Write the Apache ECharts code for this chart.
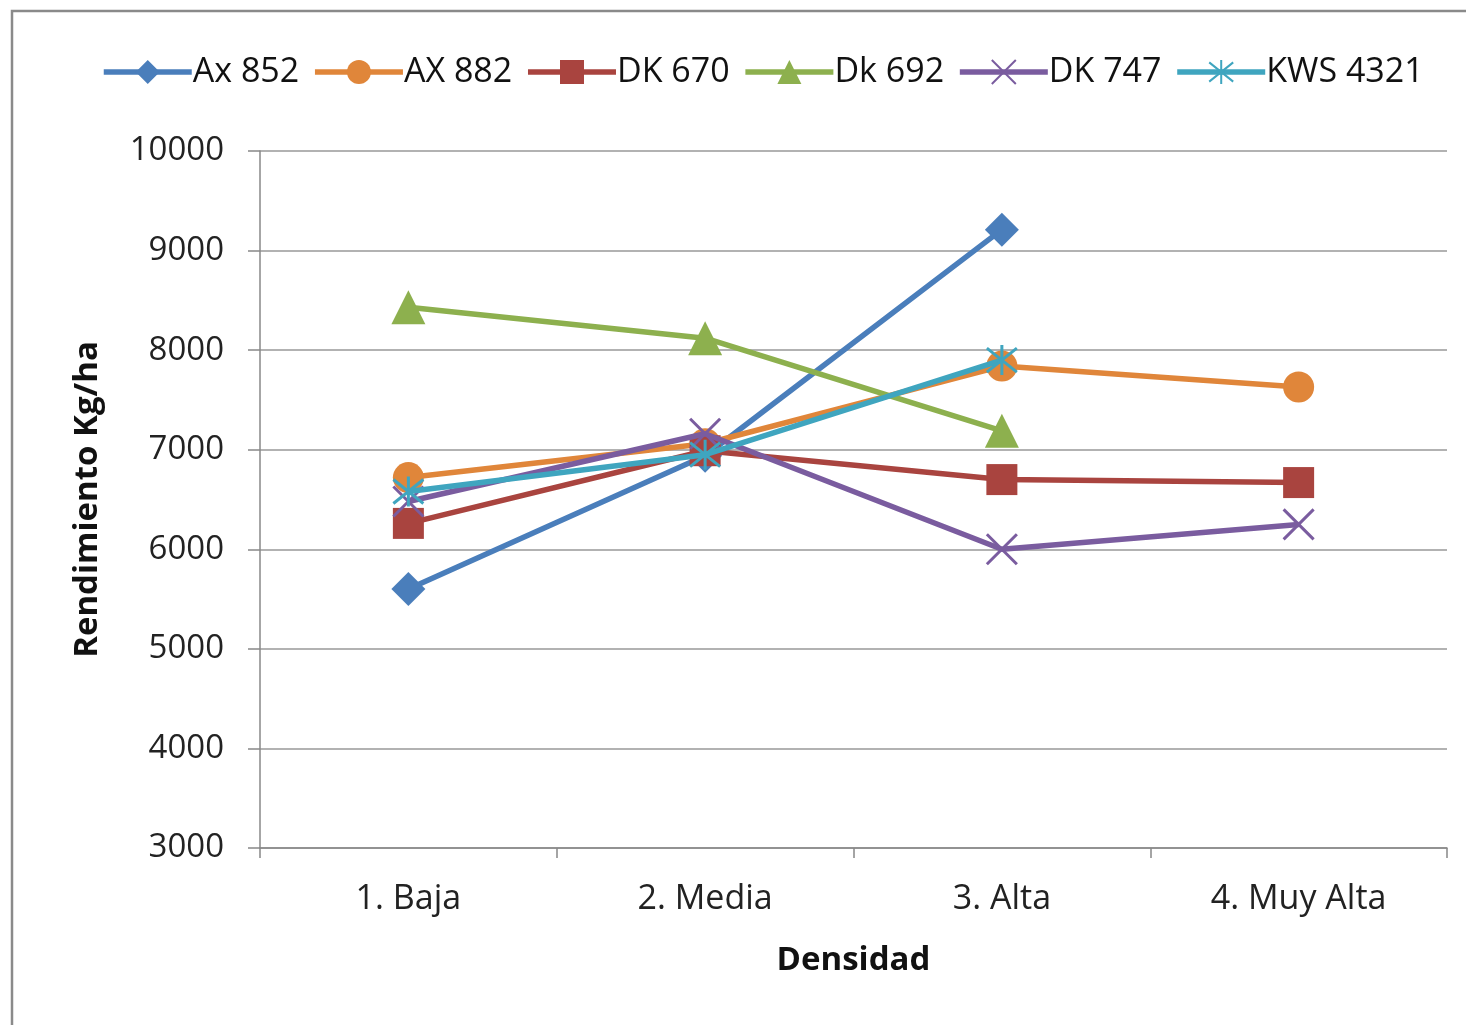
<!DOCTYPE html>
<html><head><meta charset="utf-8">
<script src="https://cdn.jsdelivr.net/npm/echarts@6/dist/echarts.min.js"></script>
<style>html,body{margin:0;padding:0;background:#fff}#c{width:1466px;height:1025px}</style>
</head><body><div id="c"></div>
<script>
const categories = ['1. Baja', '2. Media', '3. Alta', '4. Muy Alta'];
const seriesNames = ['Ax 852', 'AX 882', 'DK 670', 'Dk 692', 'DK 747', 'KWS 4321'];
const ax852 = [5600, 6940, 9210, null];
const ax882 = [6720, 7060, 7840, 7630];
const dk670 = [6260, 6990, 6700, 6670];
const dk692 = [8430, 8120, 7190, null];
const dk747 = [6480, 7160, 6000, 6250];
const kws4321 = [6580, 6950, 7900, null];
const yTicks = { min: 3000, max: 10000, interval: 1000 };

const colors = ['#4A7EBB', '#E0863A', '#A9443F', '#8DB04E', '#7A5C9F', '#3FA5BF'];
const xPath = 'path://M0,0L20,20M20,0L0,20';
const starPath = 'path://M0,2L20,18M20,2L0,18M10,0L10,20';
const symbols = ['diamond', 'circle', 'rect', 'triangle', xPath, starPath];
const sizes = [34, 31, 31, 34, 30, 30];
const data = [ax852, ax882, dk670, dk692, dk747, kws4321];
const FONT = 'Open Sans';

const series = seriesNames.map((n, i) => {
  const isPath = i >= 4;
  return {
    name: n, type: 'line', data: data[i],
    symbol: symbols[i], symbolSize: sizes[i], showAllSymbol: true,
    connectNulls: false,
    lineStyle: { width: 5.5, color: colors[i] },
    itemStyle: isPath ? { color: 'rgba(0,0,0,0)', borderColor: colors[i], borderWidth: 3 } : { color: colors[i], borderWidth: 0 },
    emphasis: { disabled: true },
    z: 2 + i
  };
});

const chart = echarts.init(document.getElementById('c'));
chart.setOption({
  animation: false,
  backgroundColor: '#fff',
  color: colors,
  graphic: [{ type: 'rect', shape: { x: 12, y: 11, width: 1480, height: 1040 }, style: { fill: 'none', stroke: '#8a8a8a', lineWidth: 2.5 }, silent: true }],
  legend: {
    top: 50, left: 96, itemWidth: 88, itemHeight: 30, itemGap: 13,
    lineStyle: { width: 5.5 },
    textStyle: { fontFamily: FONT, fontSize: 34, color: '#111', padding: [0, 0, 0, -4] },
    data: seriesNames
  },
  grid: { left: 260, right: 19, top: 151, bottom: 177 },
  xAxis: {
    type: 'category', data: categories, boundaryGap: true,
    name: 'Densidad', nameLocation: 'middle', nameGap: 96,
    nameTextStyle: { fontFamily: FONT, fontSize: 33, fontWeight: 'bold', color: '#111' },
    axisLine: { lineStyle: { color: '#888', width: 1.5 } },
    axisTick: { show: true, length: 10, alignWithLabel: false, lineStyle: { color: '#888', width: 1.5 } },
    axisLabel: { fontFamily: FONT, fontSize: 34, color: '#222', margin: 34 },
    splitLine: { show: false }
  },
  yAxis: {
    type: 'value', min: yTicks.min, max: yTicks.max, interval: yTicks.interval,
    name: 'Rendimiento Kg/ha', nameLocation: 'middle', nameGap: 156, nameRotate: 90,
    nameTextStyle: { fontFamily: FONT, fontSize: 33, fontWeight: 'bold', color: '#111' },
    axisLine: { show: true, lineStyle: { color: '#888', width: 1.5 } },
    axisTick: { show: true, length: 12, lineStyle: { color: '#888', width: 1.5 } },
    axisLabel: { fontFamily: FONT, fontSize: 33, color: '#222', margin: 36, formatter: v => String(v) },
    splitLine: { show: true, lineStyle: { color: '#999', width: 1.5 } }
  },
  series: series
});
</script></body></html>
